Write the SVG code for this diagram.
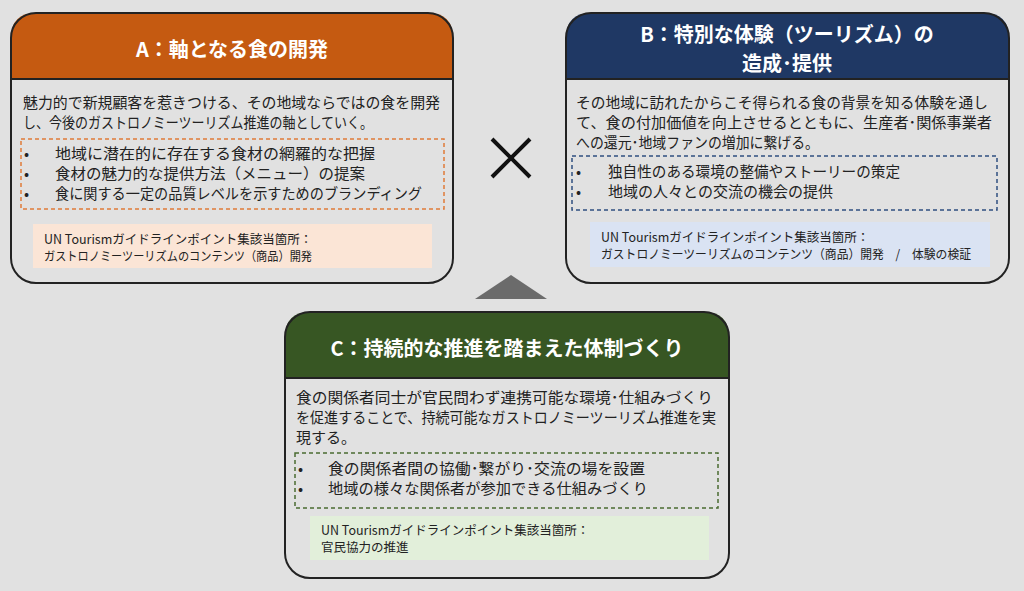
<svg xmlns="http://www.w3.org/2000/svg" width="1024" height="591" viewBox="0 0 1024 591">
<style>
.t{font-family:"Noto Sans CJK JP","Noto Sans",sans-serif;}
.h{font-size:20px;font-weight:bold;fill:#fff;text-anchor:middle}
.b{font-size:15px;fill:#222}
.s{font-size:12.5px;fill:#222}
.dash{fill:none;stroke-width:1.5;stroke-dasharray:4 3}
</style>
<rect width="1024" height="591" fill="#e1e1e1"/>
<g id="nodeA">
<path d="M11,79 V38 Q11,13 36,13 H428 Q453,13 453,38 V79 Z" fill="#c55a11"/>
<rect x="11" y="13" width="442" height="270" rx="25" fill="none" stroke="#222" stroke-width="2"/>
<line x1="11" y1="79" x2="453" y2="79" stroke="#222" stroke-width="2"/>
<text class="t h" x="232" y="57">A：軸となる食の開発</text>
<text class="t b" x="23" y="108" textLength="417" lengthAdjust="spacingAndGlyphs">魅力的で新規顧客を惹きつける、その地域ならではの食を開発</text>
<text class="t b" x="23" y="128" textLength="350" lengthAdjust="spacingAndGlyphs">し、今後のガストロノミーツーリズム推進の軸としていく。</text>
<rect class="dash" x="21" y="139" width="423" height="70" stroke="#e07b39"/>
<g class="t b"><text x="24" y="159">•</text><text x="55" y="159" textLength="320" lengthAdjust="spacingAndGlyphs">地域に潜在的に存在する食材の網羅的な把握</text>
<text x="24" y="179">•</text><text x="55" y="179" textLength="310" lengthAdjust="spacingAndGlyphs">食材の魅力的な提供方法（メニュー）の提案</text>
<text x="24" y="199">•</text><text x="55" y="199" textLength="367" lengthAdjust="spacingAndGlyphs">食に関する一定の品質レベルを示すためのブランディング</text></g>
<rect x="33" y="224" width="399" height="44" fill="#fbe5d6"/>
<text class="t s" x="44" y="244">UN Tourismガイドラインポイント集該当箇所：</text>
<text class="t s" x="44" y="261" textLength="268" lengthAdjust="spacingAndGlyphs">ガストロノミーツーリズムのコンテンツ（商品）開発</text>
</g>
<g id="nodeB">
<path d="M566,79 V38 Q566,13 591,13 H984 Q1009,13 1009,38 V79 Z" fill="#1f3864"/>
<rect x="566" y="13" width="443" height="270" rx="25" fill="none" stroke="#222" stroke-width="2"/>
<line x1="566" y1="79" x2="1009" y2="79" stroke="#222" stroke-width="2"/>
<text class="t h" x="787" y="42">B：特別な体験（ツーリズム）の</text>
<text class="t h" x="787" y="71">造成･提供</text>
<text class="t b" x="576" y="108" textLength="412" lengthAdjust="spacingAndGlyphs">その地域に訪れたからこそ得られる食の背景を知る体験を通し</text>
<text class="t b" x="576" y="128" textLength="416" lengthAdjust="spacingAndGlyphs">て、食の付加価値を向上させるとともに、生産者･関係事業者</text>
<text class="t b" x="576" y="148" textLength="243" lengthAdjust="spacingAndGlyphs">への還元･地域ファンの増加に繋げる。</text>
<rect class="dash" x="572" y="156" width="425" height="54" stroke="#2f4f80"/>
<g class="t b"><text x="576" y="177">•</text><text x="608" y="177" textLength="292" lengthAdjust="spacingAndGlyphs">独自性のある環境の整備やストーリーの策定</text>
<text x="576" y="197">•</text><text x="608" y="197" textLength="225" lengthAdjust="spacingAndGlyphs">地域の人々との交流の機会の提供</text></g>
<rect x="590" y="222" width="400" height="45" fill="#dae3f3"/>
<text class="t s" x="601" y="242">UN Tourismガイドラインポイント集該当箇所：</text>
<text class="t s" x="601" y="259" textLength="370" lengthAdjust="spacingAndGlyphs">ガストロノミーツーリズムのコンテンツ（商品）開発　/　体験の検証</text>
</g>
<g id="nodeC">
<path d="M285,378 V337 Q285,312 310,312 H704 Q729,312 729,337 V378 Z" fill="#375623"/>
<rect x="285" y="312" width="444" height="266" rx="25" fill="none" stroke="#222" stroke-width="2"/>
<line x1="285" y1="378" x2="729" y2="378" stroke="#222" stroke-width="2"/>
<text class="t h" x="507" y="356">C：持続的な推進を踏まえた体制づくり</text>
<text class="t b" x="296" y="403" textLength="417" lengthAdjust="spacingAndGlyphs">食の関係者同士が官民問わず連携可能な環境･仕組みづくり</text>
<text class="t b" x="296" y="423" textLength="420" lengthAdjust="spacingAndGlyphs">を促進することで、持続可能なガストロノミーツーリズム推進を実</text>
<text class="t b" x="296" y="443">現する。</text>
<rect class="dash" x="295" y="453" width="423" height="55" stroke="#4a6b30"/>
<g class="t b"><text x="298" y="474">•</text><text x="328" y="474" textLength="317" lengthAdjust="spacingAndGlyphs">食の関係者間の協働･繋がり･交流の場を設置</text>
<text x="298" y="494">•</text><text x="328" y="494" textLength="320" lengthAdjust="spacingAndGlyphs">地域の様々な関係者が参加できる仕組みづくり</text></g>
<rect x="310" y="516" width="399" height="44" fill="#e2efda"/>
<text class="t s" x="321" y="535">UN Tourismガイドラインポイント集該当箇所：</text>
<text class="t s" x="321" y="552">官民協力の推進</text>
</g>
<g id="connectors">
<path d="M492,139 L530,177 M530,139 L492,177" stroke="#111" stroke-width="4"/>
<polygon points="475,299 547,299 511,275" fill="#6b6b6b"/>
</g>
</svg>
